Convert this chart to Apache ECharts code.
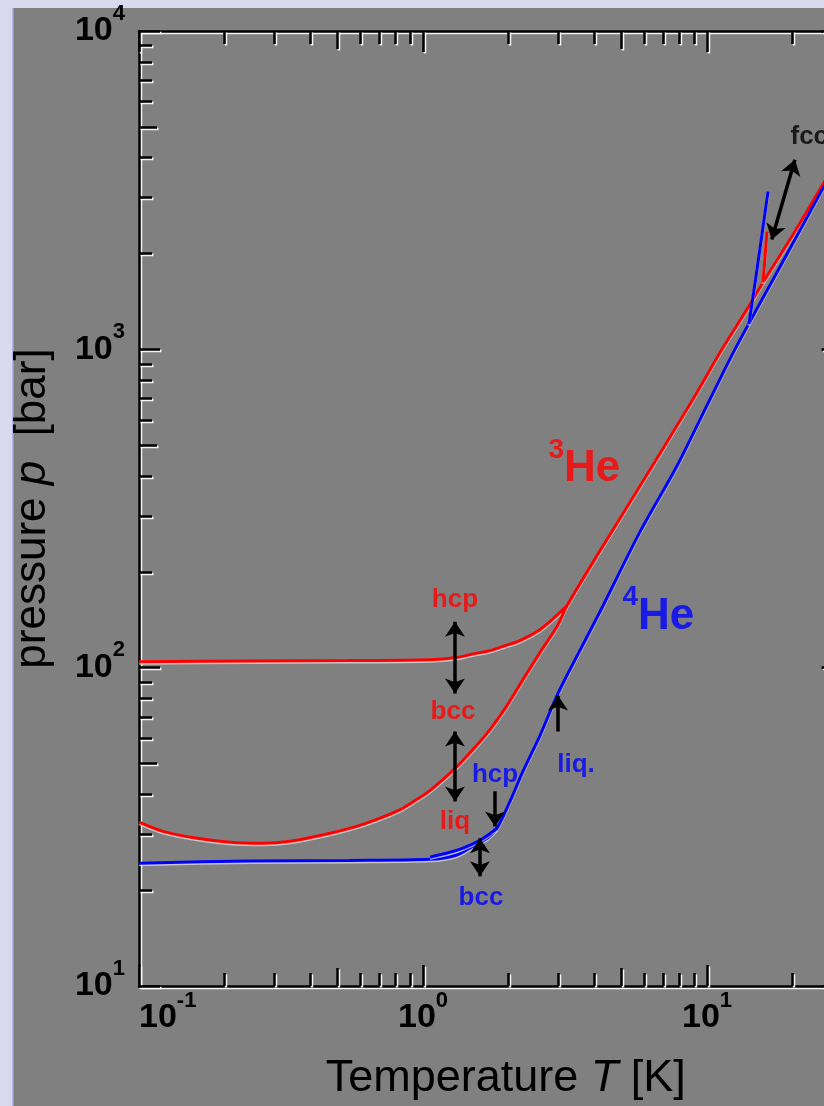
<!DOCTYPE html>
<html><head><meta charset="utf-8">
<script src="https://cdn.jsdelivr.net/npm/echarts@6/dist/echarts.min.js"></script>
<style>html,body{margin:0;padding:0;overflow:hidden;background:#d8d8ee;}#c{width:860px;height:1106px;}</style>
</head><body><div id="c"></div>
<script>
// ---------- data (T in K, p in bar) ----------
const he3HcpBcc = [[0.1,104.4],[0.246,105],[0.55,105.3],[1.06,105.9],[1.296,107.4],[1.524,110.7],[1.722,113.1],[1.944,117.2],[2.195,121.6],[2.582,131.6],[2.845,141.4],[3.213,156.4]];
const he3Melting = [[0.1,32.7],[0.1215,30.6],[0.16,29.1],[0.209,28.3],[0.273,28.1],[0.34,28.5],[0.471,30.2],[0.615,32.2],[0.81,35.4],[0.953,38.6],[1.058,41.1],[1.296,48.2],[1.5,55.3],[1.722,63.9],[1.976,76.0],[2.249,91.7],[2.582,111.5],[2.964,134.6],[3.213,156.4],[4.2,232.8],[5.81,372],[8.93,697],[11.29,1000],[13.83,1335],[15.75,1622],[19.6,2212],[25.8,3338],[30,4176]];
const he3Fcc = [[15.75,1622],[16.27,2344]];
const he4Melting = [[0.1,24.3],[0.246,24.7],[0.553,24.8],[1.058,25.0],[1.317,25.8],[1.5,27.5],[1.68,29.1],[1.822,31.3],[2.025,38.0],[2.249,47.2],[2.582,61.2],[2.964,81.7],[3.375,102.9],[4.2,149.8],[5.81,267],[7.84,430],[10.25,697],[12.55,1000],[18.07,1813],[25.8,3245],[30,4146]];
const he4BccHcp = [[1.058,25.4],[1.245,26.3],[1.383,27.1],[1.587,28.7],[1.764,30.6],[1.822,31.3]];
const he4Fcc = [[14.05,1200],[15.0,1781],[16.4,3129]];

// tick values and labels
const xMajorTicks = [0.1, 1, 10];
const xTickLabels = ['-1', '0', '1'];
const xMidTicks = [0.5, 5];
const xMinorTicks = [0.2,0.3,0.4,0.6,0.7,0.8,0.9,2,3,4,6,7,8,9,20];
const yMajorTicks = [10, 100, 1000, 10000];
const yTickLabels = ['1', '2', '3', '4'];
const yMidTicks = [50, 500, 5000];
const yMinorTicks = [20,30,40,60,70,80,90,200,300,400,600,700,800,900,2000,3000,4000,6000,7000,8000,9000];

// annotations: text, anchor [T, p]
const annoText = ['hcp', 'bcc', 'liq', 'hcp', 'bcc', 'liq.', 'fcc'];
const annoAt = [[1.296,163.4],[1.275,72.8],[1.296,32.9],[1.793,46.2],[1.60,18.9],[3.457,49.6],[19.6,4653]];
const isoMass = ['3', '4'];
const isoAt = [[2.755,420.6],[5.02,144.5]];
// arrows: [T1, p1, T2, p2]
const arrows = [[1.296,139.4,1.296,82.9],[1.296,63.0,1.296,38.0],[1.793,40.9,1.793,31.7],[1.587,29.1,1.587,22.1],[2.988,63.0,2.988,81.7],[16.9,2213,20.4,3940]];
const arrowHeads = [['arrow','arrow'],['arrow','arrow'],['none','arrow'],['arrow','arrow'],['none','arrow'],['arrow','arrow']];

// ---------- styles ----------
const FF = '"Liberation Sans", Arial, Helvetica, sans-serif';
const RED = '#ff0000', BLUE = '#0000ff';
const annoColor = [RED, RED, RED, BLUE, BLUE, BLUE, '#000'];
const annoSize = [26, 26, 26, 26, 26, 26, 26];
const annoPos = ['inside','inside','inside','inside','inside','inside','right'];
const isoColor = [RED, BLUE];
const AX = {color:'#000', width:2.5, shadowColor:'rgba(255,255,255,0.9)', shadowOffsetX:1.5, shadowOffsetY:1.5, shadowBlur:0};
const X_MIN = 0.1, X_MAX = 30, Y_MIN = 10, Y_MAX = 10000;

const tickRich = {
  b:{fontSize:34, fontWeight:'bold', fontFamily:FF, color:'#000', lineHeight:34},
  s:{fontSize:22, fontWeight:'bold', fontFamily:FF, color:'#000', lineHeight:22, padding:[0,0,35,0]}
};
function fmt(ticks, labels){
  return function(v){
    const i = ticks.findIndex(t => Math.abs(Math.log10(t) - Math.log10(v)) < 1e-6);
    return i < 0 ? '' : '{b|10}{s|' + labels[i] + '}';
  };
}
function mkAxis(isX, position, ticks, len, showLine){
  return {
    type:'log', logBase:10, gridIndex:0, position, offset:0,
    min: isX ? X_MIN : Y_MIN, max: isX ? X_MAX : Y_MAX,
    axisLine:{show:showLine, onZero:false, lineStyle:AX},
    axisTick:{show:true, inside:true, length:len, customValues:ticks, lineStyle:AX},
    axisLabel:{show:false},
    splitLine:{show:false}, minorTick:{show:false}, minorSplitLine:{show:false},
    silent:true
  };
}
const xMain = mkAxis(true, 'bottom', xMajorTicks, 21, true);
xMain.axisLabel = {show:true, customValues:xMajorTicks, margin:15, formatter:fmt(xMajorTicks, xTickLabels), rich:tickRich, alignMinLabel:'left'};
xMain.name = '{n|Temperature }{i|T}{n| [K]}';
xMain.nameLocation = 'middle';
xMain.nameGap = 70;
xMain.nameTextStyle = {padding:[0,0,0,30], rich:{n:{fontSize:45, fontFamily:FF, color:'#000'}, i:{fontSize:45, fontFamily:FF, fontStyle:'italic', color:'#000'}}};
const yMain = mkAxis(false, 'left', yMajorTicks, 21, true);
yMain.axisLabel = {show:true, customValues:yMajorTicks, margin:14, formatter:fmt(yMajorTicks, yTickLabels), rich:tickRich};
yMain.name = '{n|pressure }{i|p}{n|  [bar]}';
yMain.nameLocation = 'middle';
yMain.nameGap = 84;
yMain.nameTextStyle = {rich:{n:{fontSize:44, fontFamily:FF, color:'#000'}, i:{fontSize:44, fontFamily:FF, fontStyle:'italic', color:'#000'}}};

function curve(data, color){
  return {type:'line', data, symbol:'none', showSymbol:false, smooth:0.3, silent:true, z:3,
    lineStyle:{color, width:3, shadowColor:'rgba(255,255,255,0.55)', shadowBlur:0, shadowOffsetY:1.5}};
}

const labelData = annoText.map((t,i) => ({
  value: annoAt[i],
  label:{show:true, position:annoPos[i], distance:0, formatter:t, color:annoColor[i], fontSize:annoSize[i], fontWeight:'bold', fontFamily:FF}
})).concat(isoMass.map((m,i) => ({
  value: isoAt[i],
  label:{show:true, position:'right', distance:0, formatter:'{s|' + m + '}{h|He}',
    rich:{h:{fontSize:44, fontWeight:'bold', fontFamily:FF, color:isoColor[i], lineHeight:44},
          s:{fontSize:28, fontWeight:'bold', fontFamily:FF, color:isoColor[i], lineHeight:28, padding:[0,0,38,0]}}}
})));

const option = {
  animation:false,
  backgroundColor:'#d8d8ee',
  graphic:[
    {type:'rect', z:-100, silent:true, shape:{x:13, y:8, width:900, height:1200}, style:{fill:'#808080'}},
    {type:'rect', z:-99, silent:true, shape:{x:12, y:8, width:1.5, height:1200}, style:{fill:'#b4b4e4'}}
  ],
  grid:{left:139, top:31, width:703.5, height:957, containLabel:false},
  xAxis:[xMain,
    mkAxis(true,'bottom',xMidTicks,18,false),
    mkAxis(true,'bottom',xMinorTicks,13,false),
    mkAxis(true,'top',xMajorTicks,21,true),
    mkAxis(true,'top',xMidTicks,18,false),
    mkAxis(true,'top',xMinorTicks,13,false)],
  yAxis:[yMain,
    mkAxis(false,'left',yMidTicks,18,false),
    mkAxis(false,'left',yMinorTicks,13,false),
    mkAxis(false,'right',yMajorTicks,21,true),
    mkAxis(false,'right',yMidTicks,18,false),
    mkAxis(false,'right',yMinorTicks,13,false)],
  series:[
    curve(he3HcpBcc, RED), curve(he3Melting, RED), curve(he3Fcc, RED),
    curve(he4Melting, BLUE), curve(he4BccHcp, BLUE), curve(he4Fcc, BLUE),
    {type:'scatter', symbolSize:1, itemStyle:{color:'rgba(0,0,0,0)'}, silent:true, z:5, data:labelData,
      markLine:{silent:true, animation:false, label:{show:false}, symbolSize:15,
        lineStyle:{color:'#000', width:3.5, type:'solid'},
        data: arrows.map((a,i) => [
          {coord:[a[0],a[1]], symbol:arrowHeads[i][0]},
          {coord:[a[2],a[3]], symbol:arrowHeads[i][1]}
        ])}}
  ]
};
const chart = echarts.init(document.getElementById('c'));
chart.setOption(option);
</script></body></html>
